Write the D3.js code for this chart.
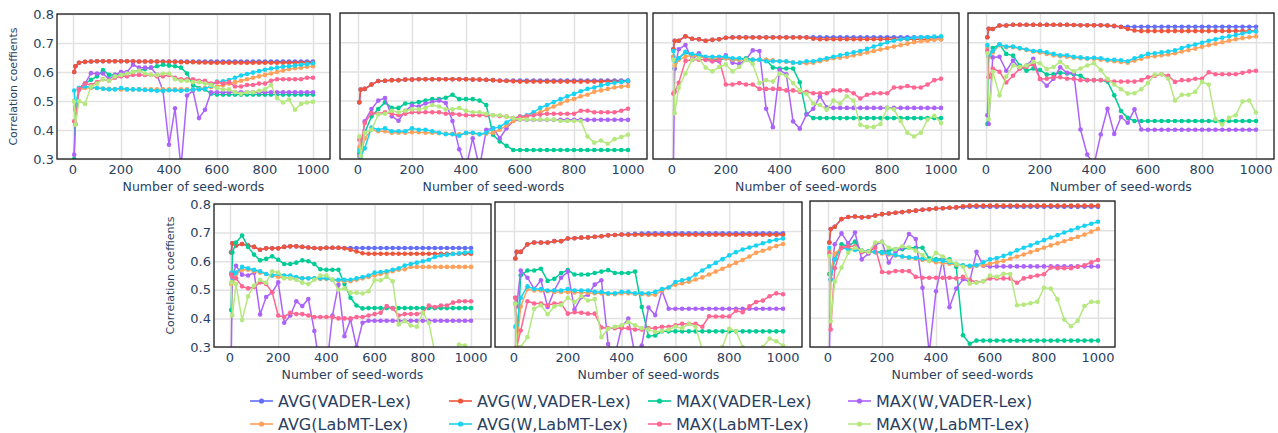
<!DOCTYPE html>
<html>
<head>
<meta charset="utf-8">
<script src="https://cdn.jsdelivr.net/npm/d3@7"></script>
<style>
  body { margin: 0; background: #fff; }
  svg { display: block; font-family: "DejaVu Sans", Verdana, sans-serif; }
</style>
</head>
<body>
<svg id="chart" width="1278" height="433"></svg>
<script>
const svg = d3.select("#chart");

// x positions of the samples (number of seed-words)
const seedWords = [5, 10, 25, 50, 75, 100, 125, 150, 175, 200, 225, 250, 275, 300, 325, 350, 375, 400, 425, 450, 475,
  500, 525, 550, 575, 600, 625, 650, 675, 700, 725, 750, 775, 800, 825, 850, 875, 900, 925, 950, 975, 1000];

const seriesNames = ["AVG(VADER-Lex)", "AVG(W,VADER-Lex)", "MAX(VADER-Lex)", "MAX(W,VADER-Lex)",
  "AVG(LabMT-Lex)", "AVG(W,LabMT-Lex)", "MAX(LabMT-Lex)", "MAX(W,LabMT-Lex)"];
const colors = ["#636efa", "#EF553B", "#00cc96", "#ab63fa", "#FFA15A", "#19d3f3", "#FF6692", "#B6E880"];

const xTicks = [0, 200, 400, 600, 800, 1000];
const yTicks = [0.3, 0.4, 0.5, 0.6, 0.7, 0.8];

// one array per series, in legend order
const panelA = [
  [0.60,0.62,0.632,0.635,0.636,0.637,0.637,0.637,0.637,0.637,0.637,0.636,0.636,0.636,0.636,0.636,0.636,0.636,0.636,0.636,0.636,0.636,0.636,0.636,0.636,0.636,0.636,0.636,0.636,0.636,0.636,0.636,0.636,0.636,0.636,0.636,0.636,0.636,0.636,0.636,0.636,0.636],
  [0.60,0.62,0.632,0.635,0.636,0.637,0.637,0.637,0.637,0.637,0.637,0.637,0.636,0.636,0.636,0.636,0.635,0.635,0.635,0.634,0.634,0.634,0.633,0.633,0.632,0.632,0.632,0.632,0.632,0.632,0.632,0.632,0.632,0.632,0.632,0.632,0.632,0.632,0.632,0.632,0.632,0.632],
  [0.30,0.47,0.54,0.56,0.573,0.585,0.607,0.59,0.59,0.59,0.595,0.60,0.605,0.61,0.615,0.62,0.625,0.622,0.62,0.615,0.595,0.555,0.545,0.54,0.525,0.522,0.522,0.522,0.522,0.522,0.522,0.522,0.522,0.522,0.522,0.522,0.522,0.522,0.522,0.522,0.522,0.522],
  [0.315,0.42,0.545,0.56,0.596,0.595,0.595,0.575,0.59,0.60,0.60,0.625,0.615,0.615,0.615,0.59,0.535,0.349,0.475,0.27,0.519,0.535,0.441,0.47,0.53,0.53,0.53,0.53,0.53,0.53,0.53,0.53,0.53,0.53,0.53,0.53,0.53,0.53,0.53,0.53,0.53,0.53],
  [0.50,0.47,0.54,0.545,0.545,0.545,0.543,0.542,0.541,0.54,0.54,0.54,0.54,0.54,0.54,0.54,0.54,0.54,0.54,0.54,0.54,0.54,0.542,0.545,0.548,0.55,0.555,0.56,0.565,0.57,0.575,0.58,0.585,0.59,0.595,0.60,0.605,0.61,0.613,0.615,0.618,0.62],
  [0.536,0.48,0.545,0.55,0.548,0.545,0.542,0.54,0.54,0.545,0.54,0.54,0.54,0.538,0.537,0.535,0.535,0.537,0.537,0.535,0.537,0.54,0.54,0.542,0.552,0.567,0.568,0.572,0.58,0.588,0.593,0.598,0.603,0.608,0.612,0.615,0.618,0.62,0.622,0.625,0.627,0.63],
  [0.43,0.42,0.54,0.56,0.555,0.565,0.575,0.57,0.58,0.585,0.585,0.59,0.59,0.59,0.59,0.585,0.585,0.59,0.58,0.575,0.575,0.575,0.57,0.57,0.56,0.565,0.56,0.565,0.55,0.55,0.555,0.555,0.56,0.56,0.57,0.575,0.575,0.575,0.575,0.575,0.58,0.58],
  [0.498,0.418,0.50,0.49,0.55,0.56,0.575,0.57,0.585,0.59,0.595,0.60,0.605,0.595,0.59,0.59,0.595,0.595,0.575,0.57,0.57,0.565,0.565,0.56,0.555,0.545,0.54,0.54,0.53,0.525,0.53,0.53,0.535,0.54,0.555,0.51,0.495,0.505,0.47,0.49,0.495,0.497]
];

const panelB = [
  [0.494,0.538,0.54,0.555,0.567,0.568,0.57,0.57,0.572,0.572,0.573,0.573,0.573,0.573,0.573,0.573,0.573,0.573,0.572,0.572,0.571,0.57,0.569,0.569,0.569,0.569,0.569,0.569,0.569,0.569,0.569,0.569,0.569,0.569,0.569,0.569,0.569,0.569,0.569,0.569,0.569,0.569],
  [0.494,0.538,0.54,0.555,0.567,0.568,0.57,0.57,0.572,0.572,0.573,0.573,0.573,0.573,0.573,0.573,0.573,0.573,0.572,0.572,0.571,0.57,0.568,0.567,0.566,0.565,0.565,0.565,0.565,0.565,0.565,0.565,0.565,0.565,0.565,0.565,0.565,0.565,0.565,0.565,0.565,0.565],
  [0.32,0.30,0.39,0.446,0.471,0.494,0.475,0.475,0.49,0.49,0.495,0.50,0.505,0.505,0.51,0.52,0.505,0.505,0.505,0.50,0.485,0.383,0.36,0.345,0.331,0.331,0.331,0.331,0.331,0.331,0.331,0.331,0.331,0.331,0.331,0.331,0.331,0.331,0.331,0.331,0.331,0.331],
  [0.31,0.33,0.429,0.471,0.50,0.509,0.446,0.431,0.465,0.483,0.48,0.49,0.495,0.50,0.492,0.43,0.333,0.27,0.371,0.27,0.40,0.406,0.371,0.405,0.43,0.435,0.434,0.434,0.434,0.434,0.434,0.434,0.434,0.434,0.434,0.434,0.434,0.434,0.434,0.434,0.434,0.434],
  [0.34,0.31,0.37,0.40,0.395,0.395,0.39,0.39,0.39,0.392,0.392,0.39,0.39,0.388,0.387,0.386,0.385,0.388,0.388,0.385,0.387,0.39,0.40,0.415,0.43,0.44,0.445,0.455,0.46,0.47,0.48,0.49,0.50,0.505,0.515,0.52,0.53,0.535,0.54,0.545,0.548,0.55],
  [0.33,0.31,0.337,0.408,0.40,0.405,0.395,0.395,0.395,0.405,0.40,0.40,0.395,0.39,0.385,0.385,0.38,0.39,0.39,0.385,0.39,0.405,0.41,0.425,0.44,0.445,0.45,0.46,0.475,0.485,0.495,0.505,0.515,0.523,0.532,0.54,0.545,0.552,0.557,0.561,0.564,0.567],
  [0.366,0.35,0.423,0.457,0.455,0.46,0.455,0.45,0.455,0.46,0.46,0.46,0.46,0.46,0.455,0.455,0.452,0.45,0.45,0.45,0.45,0.45,0.447,0.445,0.44,0.445,0.447,0.45,0.452,0.455,0.455,0.455,0.455,0.455,0.465,0.465,0.46,0.46,0.46,0.46,0.465,0.472],
  [0.377,0.31,0.39,0.40,0.452,0.455,0.465,0.46,0.465,0.47,0.47,0.475,0.485,0.48,0.47,0.47,0.475,0.465,0.46,0.46,0.455,0.45,0.45,0.445,0.44,0.435,0.435,0.435,0.435,0.435,0.435,0.43,0.43,0.43,0.43,0.377,0.356,0.363,0.352,0.368,0.375,0.383]
];

const panelC = [
  [0.676,0.705,0.705,0.72,0.712,0.71,0.705,0.708,0.71,0.715,0.717,0.717,0.717,0.717,0.717,0.717,0.717,0.717,0.717,0.717,0.717,0.717,0.717,0.717,0.717,0.717,0.717,0.717,0.717,0.717,0.717,0.717,0.717,0.717,0.717,0.717,0.717,0.717,0.717,0.717,0.717,0.717],
  [0.676,0.705,0.705,0.72,0.712,0.71,0.705,0.708,0.71,0.715,0.716,0.716,0.716,0.716,0.716,0.716,0.716,0.716,0.716,0.716,0.716,0.716,0.712,0.71,0.71,0.71,0.71,0.71,0.71,0.71,0.71,0.71,0.71,0.71,0.71,0.71,0.71,0.71,0.71,0.71,0.71,0.71],
  [0.65,0.61,0.645,0.665,0.655,0.66,0.645,0.64,0.64,0.645,0.64,0.64,0.645,0.64,0.64,0.64,0.613,0.61,0.61,0.61,0.563,0.454,0.44,0.44,0.44,0.44,0.44,0.44,0.44,0.44,0.44,0.44,0.44,0.44,0.44,0.44,0.44,0.44,0.44,0.44,0.44,0.44],
  [0.25,0.61,0.676,0.69,0.64,0.662,0.64,0.635,0.635,0.655,0.63,0.625,0.64,0.672,0.67,0.472,0.409,0.605,0.59,0.429,0.404,0.452,0.472,0.515,0.477,0.475,0.475,0.475,0.475,0.475,0.475,0.475,0.475,0.475,0.475,0.475,0.475,0.475,0.475,0.475,0.475,0.475],
  [0.65,0.62,0.64,0.65,0.655,0.65,0.645,0.645,0.645,0.645,0.64,0.64,0.64,0.64,0.64,0.64,0.638,0.635,0.633,0.63,0.629,0.628,0.63,0.635,0.64,0.645,0.647,0.65,0.655,0.66,0.665,0.67,0.675,0.68,0.685,0.69,0.695,0.70,0.703,0.705,0.708,0.71],
  [0.67,0.636,0.645,0.667,0.66,0.655,0.65,0.65,0.65,0.65,0.645,0.645,0.64,0.64,0.64,0.635,0.635,0.635,0.635,0.63,0.63,0.635,0.635,0.64,0.645,0.65,0.655,0.66,0.665,0.67,0.677,0.685,0.692,0.70,0.705,0.71,0.712,0.715,0.717,0.718,0.719,0.72],
  [0.524,0.53,0.561,0.636,0.64,0.64,0.64,0.635,0.64,0.555,0.555,0.56,0.555,0.555,0.54,0.54,0.54,0.54,0.535,0.535,0.53,0.53,0.525,0.525,0.525,0.535,0.535,0.535,0.525,0.507,0.52,0.525,0.525,0.525,0.545,0.545,0.55,0.545,0.545,0.555,0.57,0.575],
  [0.64,0.457,0.544,0.593,0.64,0.645,0.613,0.60,0.615,0.624,0.60,0.615,0.64,0.625,0.56,0.57,0.565,0.593,0.585,0.56,0.535,0.523,0.49,0.485,0.469,0.50,0.49,0.515,0.50,0.417,0.41,0.41,0.42,0.475,0.47,0.43,0.39,0.377,0.39,0.435,0.448,0.423]
];

const panelD = [
  [0.717,0.746,0.745,0.757,0.757,0.76,0.76,0.76,0.76,0.76,0.76,0.76,0.76,0.76,0.759,0.758,0.758,0.758,0.758,0.757,0.755,0.753,0.753,0.753,0.753,0.753,0.753,0.753,0.753,0.753,0.753,0.753,0.753,0.753,0.753,0.753,0.753,0.753,0.753,0.753,0.753,0.753],
  [0.717,0.746,0.745,0.757,0.757,0.76,0.76,0.76,0.76,0.76,0.76,0.76,0.76,0.76,0.759,0.758,0.758,0.758,0.758,0.757,0.756,0.752,0.745,0.74,0.738,0.738,0.738,0.738,0.738,0.738,0.738,0.738,0.738,0.738,0.738,0.738,0.738,0.738,0.738,0.738,0.738,0.738],
  [0.42,0.65,0.68,0.692,0.66,0.654,0.62,0.602,0.61,0.605,0.589,0.59,0.595,0.593,0.59,0.585,0.57,0.57,0.57,0.565,0.518,0.464,0.441,0.43,0.43,0.43,0.43,0.43,0.43,0.43,0.43,0.43,0.43,0.43,0.43,0.43,0.43,0.43,0.43,0.43,0.43,0.43],
  [0.45,0.42,0.648,0.65,0.602,0.637,0.61,0.62,0.643,0.574,0.551,0.575,0.614,0.595,0.595,0.401,0.315,0.28,0.384,0.472,0.386,0.444,0.424,0.47,0.401,0.40,0.40,0.40,0.40,0.40,0.40,0.40,0.40,0.40,0.40,0.40,0.40,0.40,0.40,0.40,0.40,0.40],
  [0.68,0.65,0.665,0.69,0.683,0.683,0.678,0.673,0.668,0.665,0.66,0.655,0.652,0.65,0.647,0.645,0.643,0.643,0.64,0.637,0.635,0.632,0.63,0.637,0.643,0.65,0.652,0.655,0.658,0.662,0.668,0.673,0.678,0.684,0.69,0.695,0.70,0.705,0.71,0.714,0.717,0.72],
  [0.69,0.655,0.67,0.692,0.685,0.685,0.68,0.675,0.67,0.67,0.665,0.66,0.655,0.655,0.65,0.648,0.645,0.647,0.645,0.64,0.64,0.638,0.635,0.645,0.652,0.66,0.662,0.665,0.668,0.672,0.68,0.687,0.692,0.698,0.705,0.71,0.715,0.72,0.725,0.73,0.735,0.737],
  [0.671,0.58,0.61,0.599,0.562,0.585,0.61,0.615,0.625,0.574,0.575,0.58,0.58,0.575,0.575,0.57,0.57,0.57,0.57,0.57,0.565,0.565,0.565,0.565,0.57,0.58,0.585,0.59,0.585,0.564,0.57,0.57,0.575,0.575,0.597,0.59,0.59,0.59,0.59,0.595,0.60,0.602],
  [0.662,0.436,0.599,0.518,0.582,0.62,0.615,0.62,0.633,0.628,0.608,0.615,0.633,0.615,0.60,0.61,0.62,0.628,0.605,0.575,0.555,0.539,0.524,0.525,0.539,0.56,0.589,0.59,0.575,0.50,0.52,0.52,0.53,0.564,0.555,0.436,0.418,0.441,0.45,0.497,0.50,0.459]
];

const panelE = [
  [0.631,0.663,0.655,0.66,0.655,0.65,0.64,0.645,0.645,0.645,0.65,0.652,0.652,0.65,0.648,0.646,0.645,0.647,0.647,0.647,0.646,0.646,0.646,0.646,0.646,0.646,0.646,0.646,0.646,0.646,0.646,0.646,0.646,0.646,0.646,0.646,0.646,0.646,0.646,0.646,0.646,0.646],
  [0.631,0.663,0.655,0.66,0.655,0.65,0.64,0.645,0.645,0.645,0.65,0.652,0.652,0.65,0.648,0.646,0.645,0.647,0.647,0.647,0.645,0.64,0.634,0.628,0.626,0.626,0.626,0.626,0.626,0.626,0.626,0.626,0.626,0.626,0.626,0.626,0.626,0.626,0.626,0.626,0.626,0.626],
  [0.429,0.63,0.665,0.69,0.65,0.623,0.603,0.608,0.617,0.605,0.59,0.59,0.595,0.603,0.60,0.59,0.572,0.57,0.57,0.57,0.52,0.472,0.445,0.435,0.436,0.436,0.436,0.436,0.436,0.436,0.436,0.436,0.436,0.436,0.436,0.436,0.436,0.436,0.436,0.436,0.436,0.436],
  [0.25,0.55,0.584,0.553,0.55,0.56,0.414,0.475,0.491,0.526,0.385,0.41,0.46,0.443,0.468,0.356,0.22,0.22,0.41,0.518,0.338,0.396,0.30,0.385,0.392,0.392,0.392,0.392,0.392,0.392,0.392,0.392,0.392,0.392,0.392,0.392,0.392,0.392,0.392,0.392,0.392,0.392],
  [0.52,0.53,0.555,0.57,0.57,0.565,0.56,0.555,0.55,0.545,0.542,0.54,0.54,0.54,0.54,0.54,0.538,0.538,0.535,0.532,0.53,0.53,0.535,0.54,0.545,0.55,0.555,0.56,0.565,0.57,0.572,0.58,0.58,0.58,0.58,0.58,0.58,0.58,0.58,0.58,0.58,0.58],
  [0.559,0.54,0.56,0.58,0.575,0.57,0.565,0.555,0.55,0.555,0.55,0.55,0.545,0.54,0.54,0.54,0.54,0.54,0.535,0.535,0.535,0.535,0.54,0.545,0.55,0.56,0.562,0.565,0.57,0.575,0.585,0.59,0.595,0.60,0.605,0.615,0.62,0.622,0.625,0.628,0.63,0.632],
  [0.553,0.545,0.54,0.512,0.505,0.51,0.526,0.52,0.491,0.41,0.405,0.42,0.415,0.415,0.41,0.405,0.405,0.405,0.405,0.40,0.40,0.40,0.405,0.405,0.41,0.415,0.42,0.443,0.435,0.41,0.415,0.415,0.415,0.42,0.445,0.44,0.445,0.445,0.455,0.46,0.46,0.46],
  [0.526,0.41,0.52,0.394,0.477,0.515,0.535,0.525,0.565,0.56,0.54,0.54,0.535,0.525,0.52,0.535,0.55,0.55,0.535,0.50,0.505,0.49,0.49,0.487,0.495,0.533,0.533,0.545,0.53,0.379,0.39,0.375,0.371,0.42,0.385,0.28,0.25,0.25,0.27,0.309,0.305,0.29]
];

const panelF = [
  [0.605,0.628,0.628,0.654,0.66,0.66,0.66,0.665,0.665,0.674,0.675,0.677,0.678,0.68,0.682,0.685,0.686,0.688,0.689,0.69,0.691,0.692,0.692,0.692,0.692,0.692,0.692,0.692,0.692,0.692,0.692,0.692,0.692,0.692,0.692,0.692,0.692,0.692,0.692,0.692,0.692,0.692],
  [0.605,0.628,0.628,0.654,0.66,0.66,0.66,0.665,0.665,0.674,0.675,0.677,0.678,0.68,0.682,0.685,0.686,0.688,0.687,0.687,0.687,0.687,0.687,0.687,0.687,0.687,0.687,0.687,0.687,0.687,0.687,0.687,0.687,0.687,0.687,0.687,0.687,0.687,0.687,0.687,0.687,0.687],
  [0.45,0.29,0.547,0.564,0.564,0.57,0.528,0.535,0.555,0.565,0.55,0.55,0.55,0.555,0.56,0.565,0.555,0.555,0.555,0.56,0.438,0.337,0.34,0.354,0.354,0.354,0.354,0.354,0.354,0.354,0.354,0.354,0.354,0.354,0.354,0.354,0.354,0.354,0.354,0.354,0.354,0.354],
  [0.47,0.44,0.564,0.539,0.50,0.53,0.438,0.495,0.539,0.56,0.429,0.472,0.48,0.515,0.53,0.31,0.27,0.368,0.398,0.27,0.305,0.436,0.41,0.495,0.432,0.432,0.432,0.432,0.432,0.432,0.432,0.432,0.432,0.432,0.432,0.432,0.432,0.432,0.432,0.432,0.432,0.432],
  [0.45,0.30,0.44,0.50,0.495,0.495,0.492,0.49,0.49,0.49,0.488,0.488,0.487,0.485,0.485,0.483,0.482,0.485,0.485,0.483,0.482,0.48,0.48,0.495,0.505,0.515,0.52,0.525,0.533,0.54,0.55,0.56,0.57,0.58,0.59,0.60,0.612,0.625,0.632,0.64,0.648,0.655],
  [0.37,0.375,0.47,0.509,0.50,0.50,0.495,0.495,0.495,0.50,0.495,0.495,0.495,0.49,0.49,0.485,0.485,0.49,0.49,0.485,0.485,0.485,0.49,0.50,0.505,0.524,0.53,0.535,0.55,0.564,0.578,0.59,0.603,0.616,0.627,0.636,0.643,0.65,0.658,0.665,0.67,0.674],
  [0.47,0.30,0.357,0.458,0.45,0.45,0.444,0.45,0.45,0.415,0.42,0.418,0.415,0.415,0.367,0.365,0.365,0.365,0.365,0.36,0.36,0.365,0.365,0.37,0.37,0.375,0.38,0.38,0.38,0.37,0.406,0.405,0.405,0.405,0.425,0.42,0.44,0.455,0.46,0.475,0.485,0.482],
  [0.449,0.29,0.30,0.334,0.432,0.444,0.413,0.44,0.445,0.47,0.455,0.475,0.46,0.465,0.334,0.363,0.37,0.375,0.386,0.375,0.365,0.36,0.352,0.355,0.36,0.37,0.365,0.38,0.37,0.29,0.27,0.285,0.30,0.363,0.355,0.30,0.27,0.27,0.30,0.329,0.32,0.305]
];

const panelG = [
  [0.658,0.704,0.712,0.738,0.745,0.747,0.744,0.745,0.75,0.755,0.757,0.76,0.762,0.765,0.767,0.77,0.772,0.774,0.775,0.777,0.778,0.779,0.78,0.78,0.78,0.78,0.78,0.78,0.78,0.78,0.78,0.78,0.78,0.78,0.78,0.78,0.78,0.78,0.78,0.78,0.78,0.78],
  [0.658,0.704,0.712,0.738,0.745,0.747,0.744,0.745,0.75,0.755,0.757,0.76,0.762,0.765,0.767,0.77,0.772,0.774,0.775,0.777,0.778,0.782,0.784,0.784,0.784,0.784,0.784,0.784,0.784,0.784,0.784,0.784,0.784,0.784,0.784,0.784,0.784,0.784,0.784,0.784,0.784,0.784],
  [0.55,0.55,0.60,0.652,0.645,0.661,0.625,0.625,0.625,0.625,0.63,0.635,0.635,0.64,0.64,0.64,0.603,0.60,0.603,0.60,0.574,0.34,0.311,0.322,0.322,0.322,0.322,0.322,0.322,0.322,0.322,0.322,0.322,0.322,0.322,0.322,0.322,0.322,0.322,0.322,0.322,0.322],
  [0.25,0.532,0.652,0.689,0.655,0.692,0.60,0.62,0.65,0.66,0.589,0.625,0.64,0.687,0.67,0.503,0.28,0.491,0.60,0.436,0.50,0.532,0.525,0.626,0.578,0.576,0.576,0.576,0.576,0.576,0.576,0.576,0.576,0.576,0.576,0.576,0.576,0.576,0.576,0.576,0.576,0.576],
  [0.63,0.55,0.62,0.64,0.638,0.635,0.63,0.628,0.625,0.62,0.617,0.613,0.61,0.605,0.602,0.598,0.595,0.59,0.588,0.585,0.582,0.58,0.575,0.578,0.58,0.585,0.59,0.595,0.602,0.61,0.617,0.625,0.632,0.64,0.648,0.655,0.662,0.67,0.677,0.685,0.695,0.704],
  [0.64,0.53,0.60,0.64,0.635,0.632,0.63,0.628,0.625,0.623,0.62,0.615,0.61,0.607,0.605,0.602,0.598,0.597,0.595,0.59,0.585,0.58,0.578,0.58,0.59,0.60,0.605,0.612,0.62,0.631,0.64,0.648,0.657,0.666,0.675,0.683,0.692,0.70,0.708,0.715,0.722,0.729],
  [0.621,0.36,0.57,0.64,0.645,0.645,0.625,0.625,0.64,0.557,0.555,0.56,0.56,0.56,0.54,0.537,0.537,0.537,0.537,0.537,0.535,0.54,0.53,0.522,0.525,0.535,0.535,0.535,0.535,0.52,0.535,0.54,0.545,0.549,0.572,0.57,0.57,0.57,0.575,0.58,0.59,0.598],
  [0.612,0.388,0.524,0.572,0.623,0.64,0.63,0.625,0.658,0.66,0.64,0.635,0.645,0.64,0.63,0.615,0.595,0.623,0.61,0.595,0.585,0.575,0.517,0.52,0.525,0.545,0.54,0.551,0.55,0.443,0.445,0.45,0.455,0.503,0.50,0.463,0.394,0.371,0.39,0.44,0.455,0.454]
];

// panel frames: plot box plus where x=0 and x=1000 land
const layout = [
  { data: panelA, left: 57,  right: 330,  top: 14,  bottom: 159, x0: 73,  x1: 313,  yAxis: true },
  { data: panelB, left: 340, right: 647,  top: 13,  bottom: 159, x0: 358, x1: 628,  yAxis: false },
  { data: panelC, left: 653, right: 959,  top: 13,  bottom: 159, x0: 672, x1: 941,  yAxis: false },
  { data: panelD, left: 968, right: 1274, top: 13,  bottom: 159, x0: 986, x1: 1256, yAxis: false },
  { data: panelE, left: 214, right: 491,  top: 204, bottom: 347, x0: 230, x1: 471,  yAxis: true },
  { data: panelF, left: 495, right: 802,  top: 202, bottom: 347, x0: 514, x1: 783,  yAxis: false },
  { data: panelG, left: 810, right: 1115, top: 201, bottom: 347, x0: 828, x1: 1098, yAxis: false }
];

const textColor = "#2a3f5f";
const gridColor = "#e2e2e2";

layout.forEach((p, i) => drawPanel(p, i));
drawLegend();

function drawPanel(p, i) {
  const x = d3.scaleLinear().domain([0, 1000]).range([p.x0, p.x1]);
  const y = d3.scaleLinear().domain([0.3, 0.8]).range([p.bottom, p.top]);
  const h = p.bottom - p.top;

  const g = svg.append("g");

  g.append("clipPath")
    .attr("id", "clip" + i)
    .append("rect")
    .attr("x", p.left)
    .attr("y", p.top)
    .attr("width", p.right - p.left)
    .attr("height", h);

  // grid
  const gx = g.append("g")
    .attr("transform", `translate(0, ${p.bottom})`)
    .call(d3.axisBottom(x).tickValues(xTicks).tickSize(-h).tickFormat(""));
  gx.select(".domain").remove();
  gx.selectAll("line").attr("stroke", gridColor).attr("stroke-width", 1.5);

  const gy = g.append("g")
    .attr("transform", `translate(${p.left}, 0)`)
    .call(d3.axisLeft(y).tickValues(yTicks).tickSize(-(p.right - p.left)).tickFormat(""));
  gy.select(".domain").remove();
  gy.selectAll("line").attr("stroke", gridColor).attr("stroke-width", 1.5);

  // series
  const plot = g.append("g").attr("clip-path", `url(#clip${i})`);
  const line = d3.line().x(d => x(d[0])).y(d => y(d[1]));

  p.data.forEach((values, s) => {
    const pts = seedWords.map((w, k) => [w, values[k]]);
    plot.append("path")
      .datum(pts)
      .attr("fill", "none")
      .attr("stroke", colors[s])
      .attr("stroke-width", 1.5)
      .attr("d", line);
    plot.selectAll(".pt" + s)
      .data(pts)
      .enter()
      .append("circle")
      .attr("class", "pt" + s)
      .attr("cx", d => x(d[0]))
      .attr("cy", d => y(d[1]))
      .attr("r", 2.3)
      .attr("fill", colors[s]);
  });

  // frame
  g.append("rect")
    .attr("x", p.left)
    .attr("y", p.top)
    .attr("width", p.right - p.left)
    .attr("height", h)
    .attr("fill", "none")
    .attr("stroke", "#1a1a1a")
    .attr("stroke-width", 1.3);

  // x tick labels
  g.selectAll(".xlab")
    .data(xTicks)
    .enter()
    .append("text")
    .attr("x", d => x(d))
    .attr("y", p.bottom + 15)
    .attr("text-anchor", "middle")
    .attr("font-size", 13)
    .attr("fill", textColor)
    .text(d => d);

  g.append("text")
    .attr("x", (p.left + p.right) / 2)
    .attr("y", p.bottom + 32)
    .attr("text-anchor", "middle")
    .attr("font-size", 12.5)
    .attr("fill", textColor)
    .text("Number of seed-words");

  if (p.yAxis) {
    g.selectAll(".ylab")
      .data(yTicks)
      .enter()
      .append("text")
      .attr("x", p.left - 3)
      .attr("y", d => y(d))
      .attr("dy", "0.36em")
      .attr("text-anchor", "end")
      .attr("font-size", 13)
      .attr("fill", textColor)
      .text(d => d3.format(".1f")(d));

    g.append("text")
      .attr("transform", `translate(${p.left - 40}, ${(p.top + p.bottom) / 2}) rotate(-90)`)
      .attr("text-anchor", "middle")
      .attr("font-size", 11)
      .attr("fill", textColor)
      .text("Correlation coeffients");
  }
}

function drawLegend() {
  const colX = [250, 449, 648, 848];
  const rowY = [401, 424];

  const items = svg.append("g")
    .selectAll("g")
    .data(seriesNames)
    .enter()
    .append("g")
    .attr("transform", (d, i) => `translate(${colX[i % 4]}, ${rowY[Math.floor(i / 4)]})`);

  items.append("line")
    .attr("x1", 0).attr("x2", 23)
    .attr("stroke", (d, i) => colors[i])
    .attr("stroke-width", 1.6);

  items.append("circle")
    .attr("cx", 11.5)
    .attr("r", 2.6)
    .attr("fill", (d, i) => colors[i]);

  items.append("text")
    .attr("x", 28)
    .attr("dy", "0.36em")
    .attr("font-size", 16)
    .attr("fill", textColor)
    .text(d => d);
}
</script>
</body>
</html>
